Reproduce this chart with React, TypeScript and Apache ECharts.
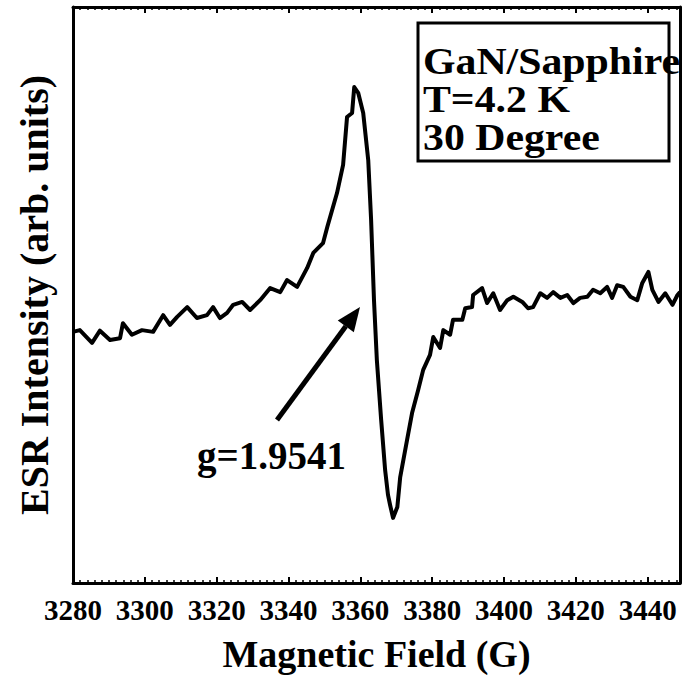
import React, { useEffect, useRef } from "react";
import * as echarts from "echarts";

const fieldG: number[] = [
  3280.0, 3281.9, 3285.3, 3287.5, 3290.3, 3293.1, 3293.9, 3296.4, 3299.2, 3302.3,
  3305.1, 3307.0, 3309.0, 3311.8, 3314.5, 3317.3, 3319.0, 3320.9, 3322.9, 3324.6,
  3327.1, 3329.3, 3332.1, 3334.9, 3337.7, 3339.6, 3342.4, 3345.2, 3346.9, 3349.6,
  3350.8, 3353.5, 3355.2, 3356.3, 3357.7, 3358.3, 3359.4, 3360.8, 3362.2, 3363.0,
  3363.8, 3364.6, 3365.8, 3366.9, 3367.7, 3368.3, 3369.1, 3370.3, 3371.1, 3373.0,
  3374.4, 3376.1, 3377.5, 3379.4, 3380.3, 3382.2, 3383.1, 3385.0, 3385.8, 3388.4,
  3389.2, 3391.1, 3391.4, 3393.9, 3395.3, 3397.0, 3398.9, 3400.9, 3402.6, 3405.1,
  3406.7, 3408.1, 3410.1, 3412.0, 3413.7, 3415.7, 3417.6, 3419.3, 3421.2, 3423.2,
  3424.8, 3426.8, 3428.7, 3430.1, 3431.5, 3433.2, 3435.2, 3437.1, 3438.5, 3440.2,
  3441.3, 3443.0, 3444.9, 3446.9, 3448.3, 3449.0,
];

const intensity: number[] = [
  43.6, 43.9, 41.7, 43.8, 42.2, 42.5, 45.1, 43.1, 43.9, 43.6,
  46.5, 44.8, 46.2, 47.9, 46.0, 46.5, 47.9, 46.0, 46.9, 48.3,
  48.8, 47.4, 49.1, 51.2, 50.5, 52.6, 51.4, 54.7, 57.3, 59.0,
  61.8, 67.7, 72.6, 80.9, 81.6, 86.1, 85.1, 81.6, 73.4, 63.0,
  49.1, 38.7, 28.3, 19.6, 15.3, 13.5, 11.3, 13.2, 18.4, 24.8,
  29.5, 33.5, 37.0, 39.6, 42.7, 40.8, 43.9, 43.1, 45.7, 45.7,
  47.7, 47.9, 50.0, 51.2, 48.6, 50.3, 47.4, 49.1, 49.7, 48.8,
  47.7, 47.9, 50.3, 49.5, 50.5, 49.5, 50.0, 48.6, 49.5, 49.7,
  50.9, 50.3, 51.4, 49.5, 51.7, 51.4, 49.7, 49.1, 52.1, 54.0,
  50.9, 48.8, 50.3, 48.3, 50.0, 50.5,
];

const legendLines: string[] = ["GaN/Sapphire", "T=4.2 K", "30 Degree"];
const annotationText = "g=1.9541";
const xAxisTitle = "Magnetic Field (G)";
const yAxisTitle = "ESR Intensity (arb. units)";

const FONT = "'Liberation Serif', 'Times New Roman', Times, serif";

export default function App() {
  const ref = useRef<HTMLDivElement>(null);

  useEffect(() => {
    if (!ref.current) return;
    const chart = echarts.init(ref.current, null, { renderer: "svg" });
    const data = fieldG.map((g, i) => [g, intensity[i]]);

    // arrow geometry
    const tail = [277, 420];
    const tip = [360, 307];
    const dx = tip[0] - tail[0];
    const dy = tip[1] - tail[1];
    const len = Math.sqrt(dx * dx + dy * dy);
    const ux = dx / len;
    const uy = dy / len;
    const headLen = 24;
    const headHalf = 10;
    const bx = tip[0] - ux * headLen;
    const by = tip[1] - uy * headLen;
    const nx = -uy;
    const ny = ux;

    const tickCommon = {
      axisTick: { show: true, inside: true, length: 6, lineStyle: { color: "#000", width: 2 } },
      minorTick: { show: true, splitNumber: 10, length: 3, lineStyle: { color: "#000", width: 1.5 } },
    };

    const legendTops = [42, 80, 118];

    const option: any = {
      animation: false,
      backgroundColor: "#ffffff",
      grid: { left: 73, right: 4, top: 7, bottom: 104, containLabel: false },
      xAxis: [
        {
          type: "value",
          min: 3280,
          max: 3449,
          interval: 20,
          position: "bottom",
          name: xAxisTitle,
          nameLocation: "middle",
          nameGap: 52,
          nameTextStyle: { fontFamily: FONT, fontWeight: "bold", fontSize: 38, color: "#000" },
          axisLine: { show: true, onZero: false, lineStyle: { color: "#000", width: 3 } },
          ...tickCommon,
          axisLabel: {
            show: true,
            margin: 12,
            fontFamily: FONT,
            fontWeight: "bold",
            fontSize: 29,
            color: "#000",
            showMaxLabel: false,
            formatter: (v: number) => String(v),
          },
          splitLine: { show: false },
        },
        {
          type: "value",
          min: 3280,
          max: 3449,
          interval: 20,
          position: "top",
          axisLine: { show: true, onZero: false, lineStyle: { color: "#000", width: 3 } },
          ...tickCommon,
          axisLabel: { show: false },
          splitLine: { show: false },
        },
      ],
      yAxis: [
        {
          type: "value",
          min: 0,
          max: 100,
          position: "left",
          name: yAxisTitle,
          nameLocation: "middle",
          nameGap: 19,
          nameTextStyle: { fontFamily: FONT, fontWeight: "bold", fontSize: 40, color: "#000" },
          axisLine: { show: true, onZero: false, lineStyle: { color: "#000", width: 3 } },
          axisTick: { show: false },
          axisLabel: { show: false },
          splitLine: { show: false },
        },
        {
          type: "value",
          min: 0,
          max: 100,
          position: "right",
          axisLine: { show: true, onZero: false, lineStyle: { color: "#000", width: 3 } },
          axisTick: { show: false },
          axisLabel: { show: false },
          splitLine: { show: false },
        },
      ],
      series: [
        {
          type: "line",
          data,
          xAxisIndex: 0,
          yAxisIndex: 0,
          showSymbol: false,
          symbol: "none",
          clip: true,
          lineStyle: { color: "#000", width: 4, join: "round" },
        },
      ],
      graphic: [
        {
          type: "group",
          children: [
            ...legendLines.map((t, i) => ({
              type: "text",
              x: 423,
              y: legendTops[i],
              scaleX: 1.1,
              style: {
                text: t,
                fontFamily: FONT,
                fontWeight: "bold",
                fontSize: 38,
                fill: "#000",
                verticalAlign: "top",
              },
              z: 10,
            })),
            {
              type: "rect",
              shape: { x: 418, y: 23, width: 251, height: 138 },
              style: { fill: "none", stroke: "#000", lineWidth: 3 },
              z: 11,
            },
            {
              type: "text",
              x: 197,
              y: 436,
              style: {
                text: annotationText,
                fontFamily: FONT,
                fontWeight: "bold",
                fontSize: 39,
                fill: "#000",
                verticalAlign: "top",
              },
              z: 10,
            },
            {
              type: "line",
              shape: { x1: tail[0], y1: tail[1], x2: bx, y2: by },
              style: { stroke: "#000", lineWidth: 5 },
              z: 10,
            },
            {
              type: "polygon",
              shape: {
                points: [
                  [tip[0], tip[1]],
                  [bx + nx * headHalf, by + ny * headHalf],
                  [bx - nx * headHalf, by - ny * headHalf],
                ],
              },
              style: { fill: "#000" },
              z: 10,
            },
          ],
        },
      ],
    };

    chart.setOption(option);
    return () => {
      chart.dispose();
    };
  }, []);

  return (
    <div
      ref={ref}
      style={{ position: "fixed", left: 0, top: 0, width: 684, height: 687, background: "#fff" }}
    />
  );
}
